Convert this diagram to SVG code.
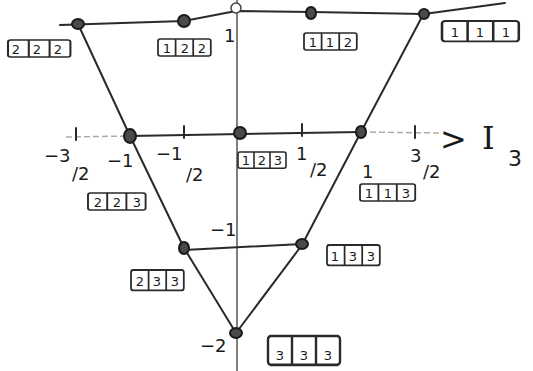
<svg xmlns="http://www.w3.org/2000/svg" width="533" height="371" viewBox="0 0 533 371">
<style>
.ln{fill:none;stroke:#2a2a2a;stroke-width:2;stroke-linecap:round;stroke-linejoin:round}
.ax{fill:none;stroke:#555;stroke-width:1.5}
.lt{fill:none;stroke:#aaa;stroke-width:1.5;stroke-dasharray:6 3}
.nd{fill:#4a4a4a;stroke:#1a1a1a;stroke-width:2}
.bx{fill:none;stroke:#2a2a2a;stroke-width:1.6}
.t{font-family:"DejaVu Sans",sans-serif;fill:#1a1a1a}
.c{font-size:13px;text-anchor:middle}
.lb{font-size:18px}
</style>
<defs>
<g id="tab">
<rect class="bx" x="0" y="0" width="48" height="17" rx="2"/>
<line class="bx" x1="16" y1="0" x2="16" y2="17"/>
<line class="bx" x1="32" y1="0" x2="32" y2="17"/>
</g>
</defs>
<g id="connectors">
<line class="ax" x1="237" y1="0" x2="237" y2="371"/>
<path class="ln" d="M60,25 L184,21 L236,11 L312,12 L424,14 L505,3"/>
<path class="lt" d="M66,137 L130,136"/>
<path class="ln" d="M130,136 L361,132"/>
<path class="lt" d="M361,132 L440,133"/>
<path class="ln" d="M78,24 L130,136 L184,248 L236,333"/>
<path class="ln" d="M424,13 L361,132 L302,245 L236,333"/>
<path class="ln" d="M184,250 L302,244"/>
<path class="ln" d="M76,128 L76,140 M184,126 L184,138 M302,124 L302,136 M415,126 L415,138"/>
</g>
<g id="n222"><ellipse class="nd" cx="78" cy="24" rx="6" ry="5"/>
<use href="#tab" x="8" y="40" transform="translate(8,40) scale(1.3,1) translate(-8,-40)"/>
<text class="t c" x="16" y="54">2</text><text class="t c" x="37" y="54">2</text><text class="t c" x="58" y="54">2</text></g>
<g id="n122"><ellipse class="nd" cx="184" cy="21" rx="6" ry="6"/>
<use href="#tab" x="158" y="39" transform="translate(158,39) scale(1.1,1) translate(-158,-39)"/>
<text class="t c" x="167" y="53">1</text><text class="t c" x="185" y="53">2</text><text class="t c" x="202" y="53">2</text></g>
<g id="ntop"><ellipse cx="236" cy="8" rx="5" ry="5" fill="#fff" stroke="#444" stroke-width="1.5"/>
<text class="t lb" x="224" y="42">1</text></g>
<g id="n112"><ellipse class="nd" cx="311" cy="13" rx="5" ry="6"/>
<use href="#tab" x="304" y="33" transform="translate(304,33) scale(1.1,1) translate(-304,-33)"/>
<text class="t c" x="313" y="47">1</text><text class="t c" x="330" y="47">1</text><text class="t c" x="348" y="47">2</text></g>
<g id="n111"><ellipse class="nd" cx="424" cy="14" rx="5" ry="5"/>
<use href="#tab" x="442" y="21" transform="translate(442,21) scale(1.6,1.2) translate(-442,-21)"/>
<text class="t c" x="455" y="37">1</text><text class="t c" x="480" y="37">1</text><text class="t c" x="506" y="37">1</text></g>
<g id="n223"><ellipse class="nd" cx="130" cy="136" rx="6" ry="7"/>
<text class="t lb" x="107" y="167">−1</text>
<use href="#tab" x="88" y="193" transform="translate(88,193) scale(1.2,1) translate(-88,-193)"/>
<text class="t c" x="98" y="207">2</text><text class="t c" x="117" y="207">2</text><text class="t c" x="137" y="207">3</text></g>
<g id="n123"><ellipse class="nd" cx="240" cy="133" rx="6" ry="6"/>
<use href="#tab" x="238" y="152" transform="translate(238,152) scale(1,0.95) translate(-238,-152)"/>
<text class="t c" x="246" y="165" font-size="12">1</text><text class="t c" x="262" y="165" font-size="12">2</text><text class="t c" x="278" y="165" font-size="12">3</text></g>
<g id="n113"><ellipse class="nd" cx="361" cy="132" rx="5" ry="6"/>
<text class="t lb" x="362" y="178">1</text>
<use href="#tab" x="360" y="184" transform="translate(360,184) scale(1.15,1) translate(-360,-184)"/>
<text class="t c" x="369" y="198" font-size="12">1</text><text class="t c" x="388" y="198" font-size="12">1</text><text class="t c" x="406" y="198" font-size="12">3</text></g>
<g id="n233"><ellipse class="nd" cx="184" cy="248" rx="5" ry="6"/>
<text class="t lb" x="210" y="236">−1</text>
<use href="#tab" x="131" y="270" transform="translate(131,270) scale(1.1,1.2) translate(-131,-270)"/>
<text class="t c" x="140" y="286">2</text><text class="t c" x="157" y="286">3</text><text class="t c" x="175" y="286">3</text></g>
<g id="n133"><ellipse class="nd" cx="302" cy="244" rx="6" ry="5"/>
<use href="#tab" x="327" y="245" transform="translate(327,245) scale(1.1,1.2) translate(-327,-245)"/>
<text class="t c" x="335" y="261">1</text><text class="t c" x="353" y="261">3</text><text class="t c" x="371" y="261">3</text></g>
<g id="n333"><ellipse class="nd" cx="236" cy="333" rx="6" ry="5"/>
<text class="t lb" x="200" y="352">−2</text>
<use href="#tab" x="268" y="336" transform="translate(268,336) scale(1.5,1.7) translate(-268,-336)"/>
<text class="t c" x="280" y="360" font-size="17">3</text><text class="t c" x="304" y="360" font-size="17">3</text><text class="t c" x="328" y="360" font-size="17">3</text></g>
<g id="axislabels">
<text class="t lb" x="44" y="162">−3</text><text class="t lb" x="72" y="180">/2</text>
<text class="t lb" x="156" y="160">−1</text><text class="t lb" x="186" y="181">/2</text>
<text class="t lb" x="296" y="160">1</text><text class="t lb" x="310" y="176">/2</text>
<text class="t lb" x="410" y="162">3</text><text class="t lb" x="423" y="178">/2</text>
<text class="t" x="440" y="150" font-size="32">&gt;</text>
<text class="t" x="482" y="149" font-family="DejaVu Serif" font-size="32" style="font-family:'DejaVu Serif',serif">I</text>
<text class="t" x="508" y="166" font-size="22">3</text>
</g>
</svg>
